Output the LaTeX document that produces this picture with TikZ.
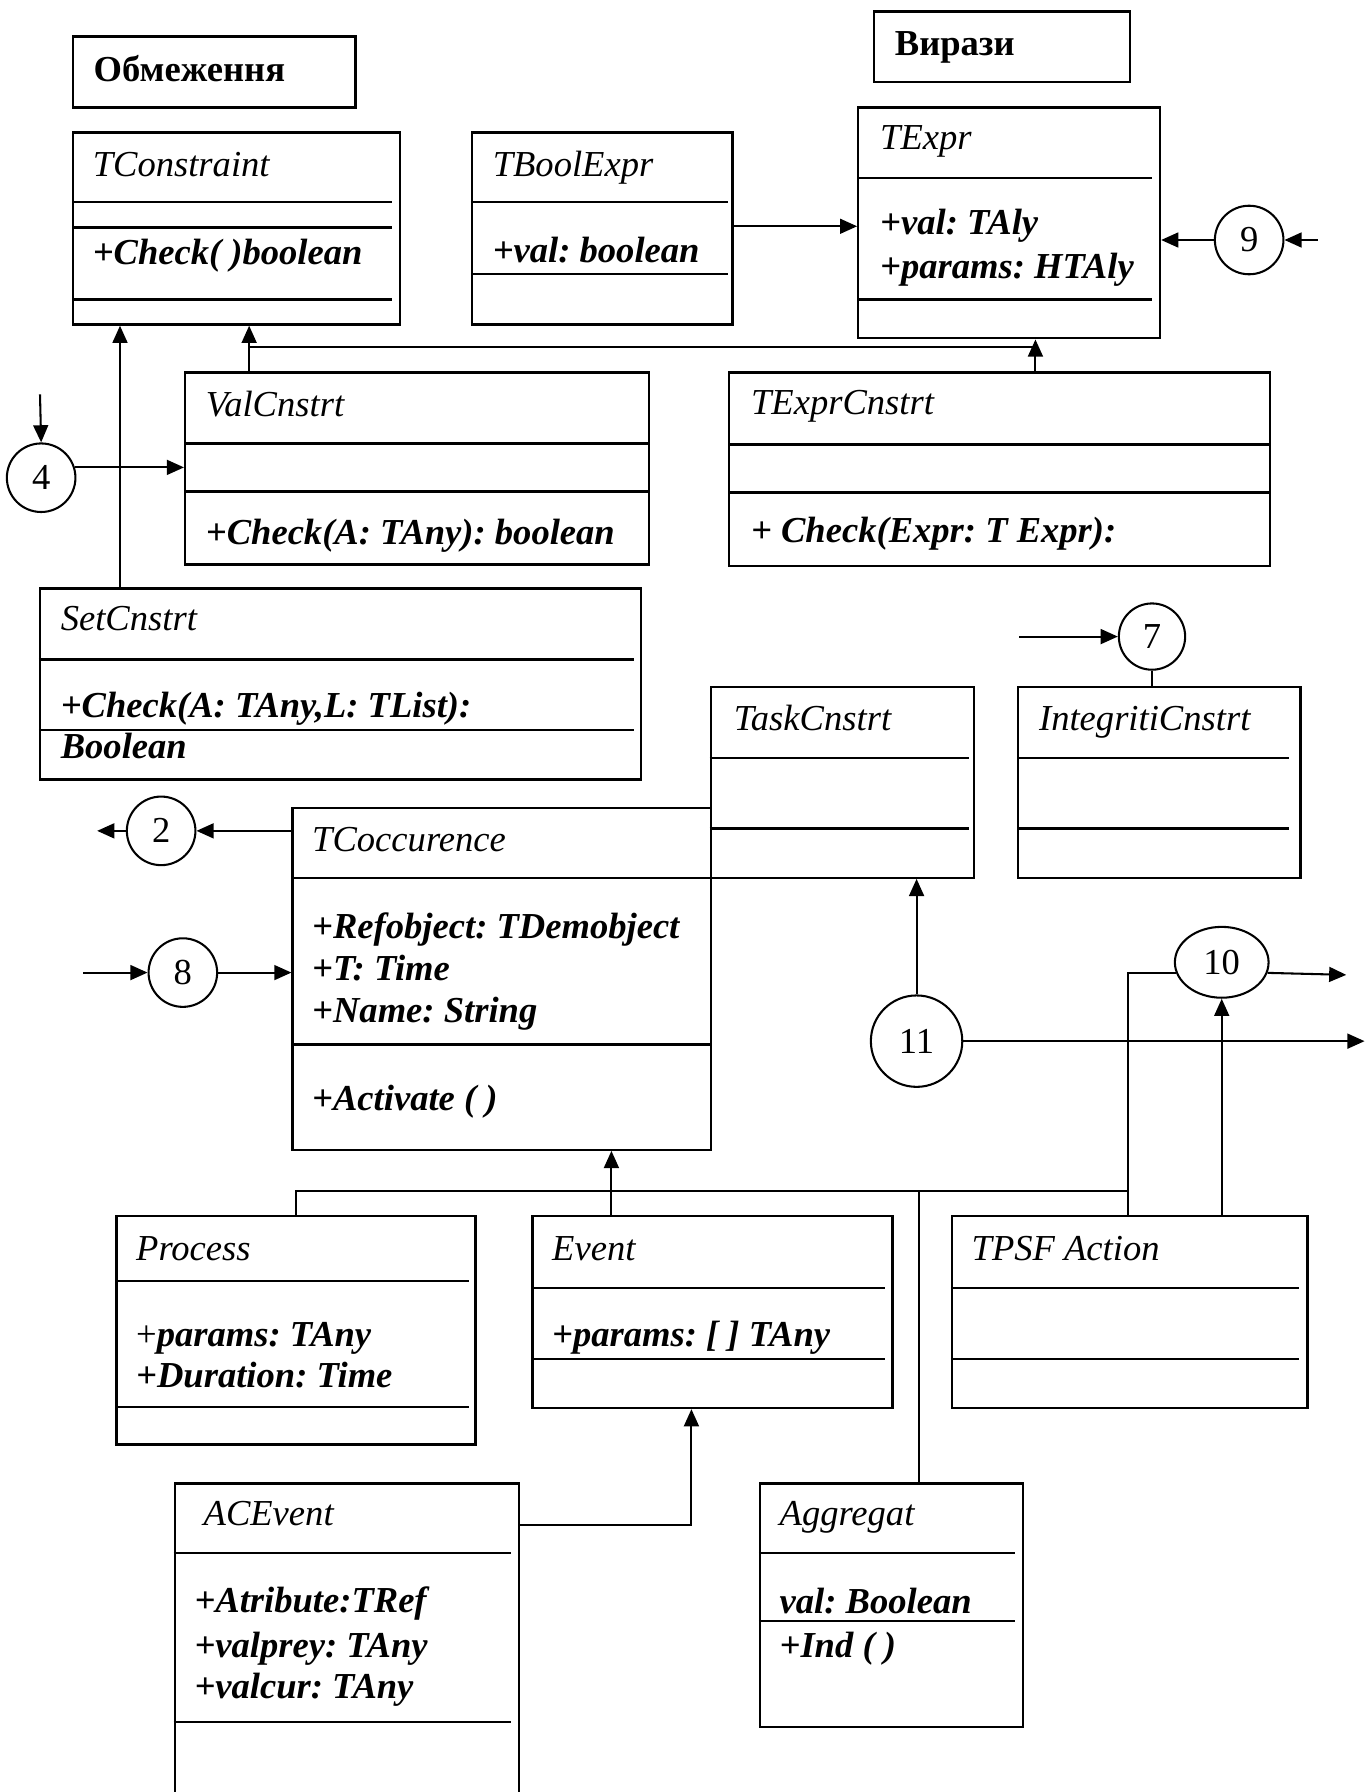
\documentclass[tikz,border=0pt]{standalone}
\usepackage{fontspec}
\setmainfont{Liberation Serif}
\usepackage{tikz}
\usetikzlibrary{positioning,arrows.meta,shapes.geometric,calc}
\newcommand{\umlfont}{\fontsize{32}{38}\selectfont\frenchspacing}
\newcommand{\sepline}[3]{\draw[sep] (#1,#3) -- (#2,#3);}

\begin{document}
\begin{tikzpicture}[x=1pt, y=-1pt,
    every node/.style={font=\umlfont},
    cls/.style={draw, line width=2pt, anchor=north west, inner sep=0pt},
    ttl/.style={draw, line width=2pt, anchor=north west, inner xsep=18pt,
                inner ysep=0pt, align=left, font=\umlfont\bfseries,
                text height=23pt, text depth=7pt, minimum height=62pt},
    cname/.style={anchor=base west, inner sep=0pt, font=\umlfont\itshape},
    cattr/.style={anchor=base west, inner sep=0pt, font=\umlfont\bfseries\itshape},
    num/.style={circle, draw, line width=1.8pt, minimum size=60pt, inner sep=0pt},
    sep/.style={line width=1.9pt},
    ln/.style={line width=1.8pt},
    arr/.style={-{Triangle[length=15pt,width=13pt]}, line width=1.8pt}]
  \useasboundingbox (0,0) rectangle (1200,1568);

  % group titles
  \node[ttl, text width=211pt] (obm) at (63,31) {Обмеження};
  \node[ttl, text width=188pt] (vyr) at (764,9) {Вирази};

  % class boxes
  \node[cls, minimum width=286pt, minimum height=168pt] (tcon)  at (63,115)   {};
  \node[cls, minimum width=228pt, minimum height=168pt] (tbool) at (412,115)  {};
  \node[cls, minimum width=264pt, minimum height=202pt] (texpr) at (750,93)   {};
  \node[cls, minimum width=406pt, minimum height=168pt] (valc)  at (161,325)  {};
  \node[cls, minimum width=473pt, minimum height=169pt] (texc)  at (637,325)  {};
  \node[cls, minimum width=526pt, minimum height=167pt] (setc)  at (34,514)   {};
  \node[cls, minimum width=230pt, minimum height=167pt] (task)  at (621,600)  {};
  \node[cls, minimum width=247pt, minimum height=167pt] (intc)  at (890,600)  {};
  \node[cls, minimum width=366pt, minimum height=299pt] (tocc)  at (255,706)  {};
  \node[cls, minimum width=314pt, minimum height=200pt] (proc)  at (101,1063) {};
  \node[cls, minimum width=315pt, minimum height=168pt] (evt)   at (465,1063) {};
  \node[cls, minimum width=311pt, minimum height=168pt] (tpsf)  at (832,1063) {};
  \node[cls, minimum width=301pt, minimum height=300pt] (ace)   at (152,1297) {};
  \node[cls, minimum width=230pt, minimum height=213pt] (agg)   at (664,1297) {};

  % compartments
  \sepline{63}{343}{177} \sepline{63}{343}{199} \sepline{63}{343}{262}
  \sepline{412}{637}{177} \sepline{412}{637}{240}
  \sepline{750}{1008}{156} \sepline{750}{1008}{262}
  \sepline{161}{567}{388} \sepline{161}{567}{430}
  \sepline{637}{1110}{389} \sepline{637}{1110}{431}
  \sepline{34}{555}{577} \sepline{34}{555}{639}
  \sepline{621}{848}{663} \sepline{621}{848}{725}
  \sepline{890}{1128}{663} \sepline{890}{1128}{725}
  \sepline{255}{621}{768} \sepline{255}{621}{914}
  \sepline{101}{410}{1121} \sepline{101}{410}{1231}
  \sepline{465}{774}{1127} \sepline{465}{774}{1189}
  \sepline{832}{1137}{1127} \sepline{832}{1137}{1189}
  \sepline{152}{447}{1359} \sepline{152}{447}{1507}
  \sepline{664}{888}{1359} \sepline{664}{888}{1418}

  % class texts
  \node[cname] (tconname)  at (81,154)   {TConstraint};
  \node[cattr] (tconop)    at (81,231)   {+Check( )boolean};
  \node[cname] (tboolname) at (431,154)  {TBoolExpr};
  \node[cattr] (tboolval)  at (431,230)  {+val: boolean};
  \node[cname] (texprname) at (770,131)  {TExpr};
  \node[cattr] (texprval)  at (770,205)  {+val: TAly};
  \node[cattr] (texprpar)  at (770,244)  {+params: HTAly};
  \node[cname] (valcname)  at (180,364)  {ValCnstrt};
  \node[cattr] (valcop)    at (180,476)  {+Check(A: TAny): boolean};
  \node[cname] (texcname)  at (657,363)  {TExprCnstrt};
  \node[cattr] (texcop)    at (657,475)  {+ Check(Expr: T Expr):};
  \node[cname] (setcname)  at (53,552)   {SetCnstrt};
  \node[cattr] (setcop)    at (53,628)   {+Check(A: TAny,L: TList):};
  \node[cattr] (setcop2)   at (53,664)   {Boolean};
  \node[cname] (taskname)  at (642,639)  {TaskCnstrt};
  \node[cname] (intcname)  at (909,639)  {IntegritiCnstrt};
  \node[cname] (toccname)  at (273,745)  {TCoccurence};
  \node[cattr] (toccref)   at (273,821)  {+Refobject: TDemobject};
  \node[cattr] (tocct)     at (273,858)  {+T: Time};
  \node[cattr] (toccnm)    at (273,895)  {+Name: String};
  \node[cattr] (toccop)    at (273,972)  {+Activate ( )};
  \node[cname] (procname)  at (119,1103) {Process};
  \node[cattr] (procpar)   at (119,1178) {{\mdseries\upshape +}params: TAny};
  \node[cattr] (procdur)   at (119,1214) {+Duration: Time};
  \node[cname] (evtname)   at (483,1103) {Event};
  \node[cattr] (evtpar)    at (483,1178) {+params: [ ] TAny};
  \node[cname] (tpsfname)  at (850,1103) {TPSF Action};
  \node[cname] (acename)   at (178,1335) {ACEvent};
  \node[cattr] (aceatr)    at (170,1411) {+Atribute:TRef};
  \node[cattr] (aceprev)   at (170,1450) {+valprey: TAny};
  \node[cattr] (acecur)    at (170,1486) {+valcur: TAny};
  \node[cname] (aggname)   at (682,1335) {Aggregat};
  \node[cattr] (aggval)    at (682,1412) {val: Boolean};
  \node[cattr] (aggop)     at (682,1450) {+Ind ( )};

  % numbered connectors
  \node[num] (c4) at (36,418)  {4};
  \node[num] (c9) at (1093,210) {9};
  \node[num] (c2) at (141,727) {2};
  \node[num] (c8) at (160,851) {8};
  \node[num, minimum size=58pt] (c7) at (1008,557) {7};
  \node[num, minimum size=80pt] (c11) at (802,911) {11};
  \node[ellipse, draw, line width=1.8pt, minimum width=82pt, minimum height=62pt,
        inner sep=0pt] (c10) at (1069,842) {10};

  % free ends and bends
  \coordinate (in4)   at (35,345);
  \coordinate (in9)   at (1153,210);
  \coordinate (out2)  at (85,727);
  \coordinate (in8)   at (73,851);
  \coordinate (in7)   at (892,557);
  \coordinate (out11) at (1194,911);
  \coordinate (out10) at (1178,853);
  \coordinate (setup) at ([xshift=71pt]setc.north west);
  \coordinate (valup) at ([xshift=57pt]valc.north west);
  \coordinate (texup) at ([xshift=269pt]texc.north west);
  \coordinate (boolout) at ([yshift=-83pt]tbool.north east);
  \coordinate (evtup) at ([xshift=70pt]evt.north west);
  \coordinate (evtin) at ([xshift=140pt]evt.south west);
  \coordinate (aggup) at ([xshift=140pt]agg.north west);
  \coordinate (tpsfup) at ([xshift=155pt]tpsf.north west);
  \coordinate (bus)   at ([yshift=21pt]tpsfup);

  % generalisation and links
  \draw[arr] (setup) -- (setup |- tcon.south);
  \draw[arr] (valup) -- (valup |- tcon.south);
  \draw[arr] (texup) -- (texup |- texpr.south);
  \draw[ln] ([yshift=21pt]valup) -- ([yshift=21pt]texup);
  \draw[arr] (boolout) -- (boolout -| texpr.west);
  \draw[arr] (c9.west) -- (c9.west -| texpr.east);
  \draw[arr] (in9) -- (c9.east);
  \draw[arr] (in4) -- (c4.north);
  \draw[arr] (c4.17) -- (c4.17 -| valc.west);
  \draw[arr] (in7) -- (c7.west);
  \draw[ln] (c7.south) -- (c7.south |- intc.north);
  \draw[arr] (c2.east -| tocc.west) -- (c2.east);
  \draw[arr] (c2.west) -- (out2);
  \draw[arr] (in8) -- (c8.west);
  \draw[arr] (c8.east) -- (c8.east -| tocc.west);
  \draw[arr] (c11.north) -- (c11.north |- task.south);
  \draw[arr] (c11.east) -- (out11);
  \draw[arr] (c10.-13) -- (out10);
  \draw[ln] (tpsfup) |- (c10.193);
  \draw[arr] (tpsf.north -| c10.south) -- (c10.south);
  \draw[ln] (proc.north) |- (bus);
  \draw[arr] (evtup) -- (evtup |- tocc.south);
  \draw[ln] (aggup) -- (aggup |- bus);
  \draw[arr] ([yshift=-37pt]ace.north east) -| (evtin);
\end{tikzpicture}
\end{document}
